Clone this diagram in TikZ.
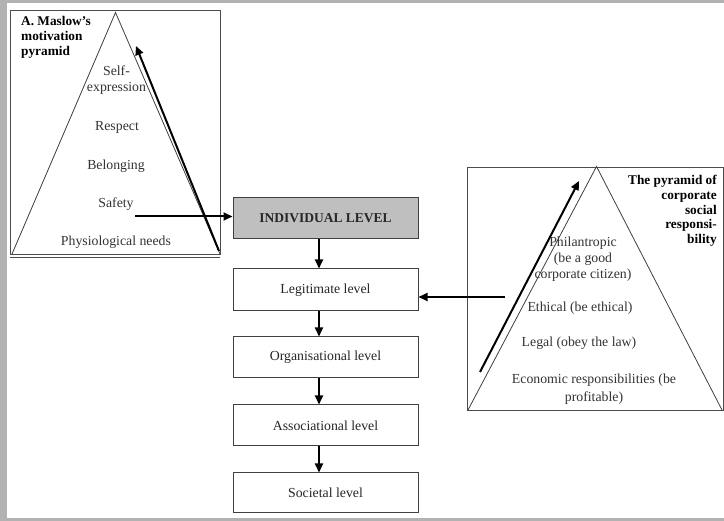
\documentclass[tikz,border=0pt]{standalone}
\usepackage{fontspec}
\setmainfont{Liberation Serif}
\usetikzlibrary{arrows.meta}
\begin{document}
\begin{tikzpicture}[x=1pt,y=-1pt,
  frame/.style={draw=black!70,line width=0.9pt},
  level/.style={draw=black!75,line width=1pt,minimum width=185pt,inner sep=0pt,font=\fontsize{13.8}{15}\selectfont,text=black!85},
  lbl/.style={inner sep=0pt,align=center,font=\fontsize{13.8}{16}\selectfont,text=black!80},
  title/.style={inner sep=0pt,font=\bfseries\fontsize{13.3}{14.8}\selectfont},
  flow/.style={line width=2pt,-{Triangle[length=9pt,width=8pt]}}]
% page and its grey edge
\fill[white] (0,0) rectangle (724,521);
\fill[black!30] (0,0) rectangle (7,521);
\fill[black!30] (0,0) rectangle (724,3);
\fill[black!30] (0,518.5) rectangle (724,521);

% Maslow's pyramid
\draw[frame] (10,10) rectangle (220,254);
\draw[frame] (10,257) -- (220,257);
\draw[black!75,line width=0.8pt] (12,254) -- (115.5,12.5) -- (220,254);
\node[title,anchor=north west,align=left] (mt) at (21,16) {A. Maslow's\\motivation\\pyramid};
\node[lbl] (se) at (116.5,80.5) {Self-\\expression};
\node[lbl] (re) at (117,127.5) {Respect};
\node[lbl] (be) at (116,166) {Belonging};
\node[lbl] (sa) at (116,204.5) {Safety};
\node[lbl] (ph) at (116,242.5) {Physiological needs};
\coordinate (mb) at (219,251);
\coordinate (mtop) at (136,46);
\draw[flow] (mb) -- (mtop);

% levels
\node[level,fill=black!25,minimum height=41pt,font=\bfseries\fontsize{13.5}{15}\selectfont] (ind) at (325.5,218.5) {INDIVIDUAL LEVEL};
\node[level,minimum height=42pt] (leg) at (325.5,290) {Legitimate level};
\node[level,minimum height=41pt] (org) at (325.5,357.5) {Organisational level};
\node[level,minimum height=41pt] (ass) at (325.5,425.5) {Associational level};
\node[level,minimum height=40pt] (soc) at (325.5,493) {Societal level};
\coordinate (ax) at (319,0);
\draw[flow] (ind.south -| ax) -- (leg.north -| ax);
\draw[flow] (leg.south -| ax) -- (org.north -| ax);
\draw[flow] (org.south -| ax) -- (ass.north -| ax);
\draw[flow] (ass.south -| ax) -- (soc.north -| ax);

\coordinate (sf) at (135,216.5);
\draw[flow] (sf) -- (sf -| ind.west);

% pyramid of corporate social responsibility
\draw[frame] (467,167) rectangle (723,410);
\draw[black!75,line width=0.8pt] (468,410) -- (596.5,166.5) -- (722,410);
\node[title,anchor=north east,align=right] (ct) at (717,175) {The pyramid of\\corporate\\social\\responsi-\\bility};
\node[lbl] (phi) at (583,259) {Philantropic\\(be a good\\corporate citizen)};
\node[lbl] (eth) at (580,308) {Ethical (be ethical)};
\node[lbl] (leg2) at (579,343) {Legal (obey the law)};
\node[lbl,font=\fontsize{13.8}{18}\selectfont] (eco) at (594,389) {Economic responsibilities (be\\profitable)};
\coordinate (cb) at (480,372);
\coordinate (ctop) at (579,181);
\draw[flow] (cb) -- (ctop);
\coordinate (rt) at (505,297);
\draw[flow] (rt) -- (rt -| leg.east);
\end{tikzpicture}
\end{document}
